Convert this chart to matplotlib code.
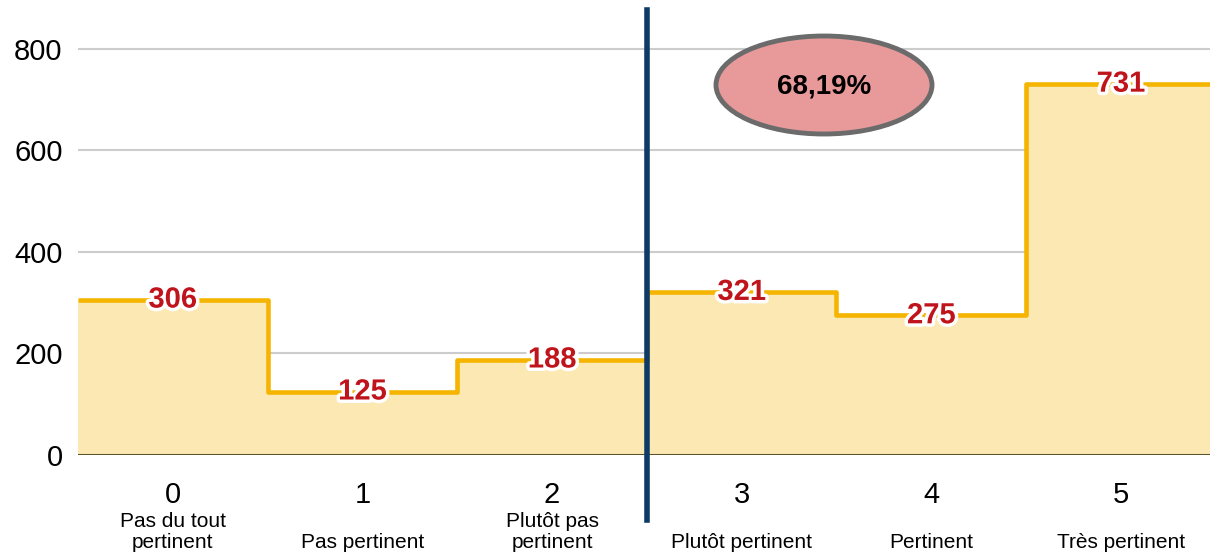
import numpy as np
import matplotlib.pyplot as plt
from matplotlib.patches import Ellipse
import matplotlib.patheffects as pe

plt.rcParams['font.family'] = ['Liberation Sans', 'DejaVu Sans']

# données
categories = [0, 1, 2, 3, 4, 5]
counts = [306, 125, 188, 321, 275, 731]
cat_labels = ['Pas du tout\npertinent', 'Pas pertinent', 'Plutôt pas\npertinent',
              'Plutôt pertinent', 'Pertinent', 'Très pertinent']
y_ticks = [0, 200, 400, 600, 800]
pct_text = '68,19%'
split_at = 2.5

W, H = 1210, 555
fig = plt.figure(figsize=(W / 100, H / 100), dpi=100)
ax_h = (455 - 8) / H
ax = fig.add_axes([78 / W, 100 / H, 1 - 78 / W, ax_h])

edges = np.arange(len(categories) + 1) - 0.5
ax.stairs(counts, edges, fill=True, color='#fce8b2', zorder=1)
line = ax.stairs(counts, edges, baseline=None, color='#f4b400', linewidth=3.3, zorder=3)
line.set_joinstyle('round')

ax.set_xlim(-0.5, 5.47)
ax.set_ylim(0, 880)
ax.set_yticks(y_ticks)
ax.grid(axis='y', color='#cccccc', linewidth=1.5, zorder=0)
ax.set_axisbelow(True)
ax.axhline(0, color='#5a5428', linewidth=2.2, zorder=4)
for s in ax.spines.values():
    s.set_visible(False)
ax.tick_params(axis='y', length=0, pad=11, labelsize=21)
ax.tick_params(axis='x', length=0, pad=19, labelsize=21)
ax.set_xticks(categories)
ax.set_xticklabels([str(c) for c in categories])

# valeurs sur la ligne
for x, v in zip(categories, counts):
    ax.text(x, v, str(v), ha='center', va='center', color='#c0141c',
            fontsize=21, fontweight='bold', zorder=5,
            path_effects=[pe.withStroke(linewidth=5, foreground='white')])

# libellés des catégories, alignés par le bas
lab_y = -(552 - 455) / (455 - 8)
for x, lab in zip(categories, cat_labels):
    ax.text(x, lab_y, lab, transform=ax.get_xaxis_transform(), ha='center',
            va='bottom', fontsize=15, linespacing=1.15, zorder=5)

# séparation verticale
xf = fig.transFigure.inverted().transform(ax.transData.transform((split_at, 0)))[0]
fig.add_artist(plt.Line2D([xf, xf], [1 - 10 / H, 1 - 520 / H], color='#0d3a66',
                          linewidth=4, transform=fig.transFigure))

# ellipse du pourcentage
ell = Ellipse((824 / W, 1 - 85 / H), 216 / W, 98 / H, transform=fig.transFigure,
              facecolor='#e89a9a', edgecolor='#6b6b6b', linewidth=3.5)
fig.add_artist(ell)
fig.text(824 / W, 1 - 86 / H, pct_text, ha='center', va='center',
         fontsize=20, fontweight='bold')

fig.savefig('out.png', dpi=100)
